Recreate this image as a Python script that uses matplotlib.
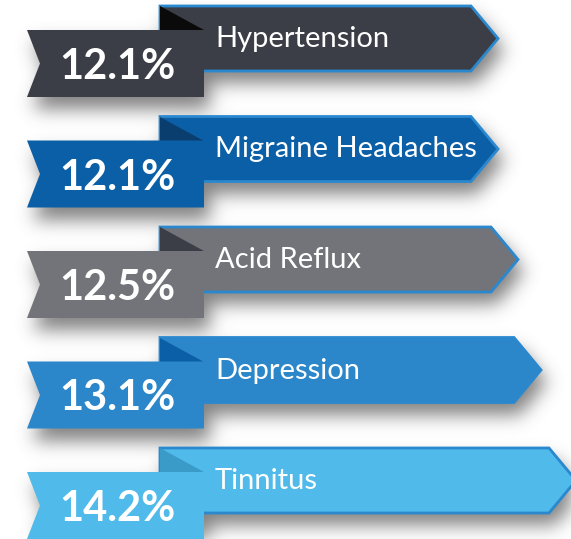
import numpy as np
import matplotlib.pyplot as plt
from matplotlib.patches import Polygon
from matplotlib.path import Path

plt.rcParams["font.family"] = ["Lato", "DejaVu Sans"]

# 数据
conditions = ["Hypertension", "Migraine Headaches", "Acid Reflux", "Depression", "Tinnitus"]
percents = [12.1, 12.1, 12.5, 13.1, 14.2]

# 样式
main_colors = ["#3b3e46", "#0b5fa6", "#727479", "#2b87c9", "#50bbea"]
fold_colors = ["#0a0a0a", "#0a3e6e", "#3b3e46", "#0b5fa6", "#3a9bc9"]
edge_color = "#2a88cf"
tips = [498, 498, 518, 541, 576]

W, H = 571, 539


def shapes(i):
    t = 6 + i * 110.5
    tip = tips[i]
    big = [(160, t), (tip - 27, t), (tip, t + 32.5), (tip - 27, t + 65), (160, t + 65)]
    fold = [(160, t), (160, t + 24), (204, t + 24)]
    small = [(27, t + 24), (204, t + 24), (204, t + 91), (27, t + 91), (40, t + 57.5)]
    return t, big, fold, small


def main():
    fig = plt.figure(figsize=(W / 100, H / 100), dpi=100)
    ax = fig.add_axes([0, 0, 1, 1])
    ax.set_xlim(0, W)
    ax.set_ylim(H, 0)
    ax.axis("off")

    # 阴影：把形状栅格化后做模糊
    yy, xx = np.mgrid[0:H, 0:W]
    pts = np.column_stack([xx.ravel() + 0.5, yy.ravel() + 0.5])
    mask = np.zeros(H * W)
    for i in range(len(conditions)):
        t, big, fold, small = shapes(i)
        for poly in (big, small):
            p = Path([(x + 6, y + 12) for x, y in poly])
            mask = np.maximum(mask, p.contains_points(pts))
    mask = mask.reshape(H, W)
    k = np.exp(-0.5 * (np.arange(-30, 31) / 9.0) ** 2)
    k /= k.sum()
    blur = np.apply_along_axis(lambda r: np.convolve(r, k, mode="same"), 1, mask)
    blur = np.apply_along_axis(lambda c: np.convolve(c, k, mode="same"), 0, blur)
    rgba = np.zeros((H, W, 4))
    rgba[..., :3] = 0.3
    rgba[..., 3] = blur * 0.7
    ax.imshow(rgba, extent=(0, W, H, 0), zorder=0, interpolation="bilinear")

    for i, (name, val) in enumerate(zip(conditions, percents)):
        t, big, fold, small = shapes(i)
        ax.add_patch(Polygon(big, closed=True, facecolor=main_colors[i],
                             edgecolor=edge_color, linewidth=2, zorder=2))
        ax.add_patch(Polygon(fold, closed=True, facecolor=fold_colors[i],
                             edgecolor="none", zorder=3))
        ax.add_patch(Polygon(small, closed=True, facecolor=main_colors[i],
                             edgecolor="none", zorder=4))
        ax.text(215, t + 33, name, color="white", fontsize=21,
                va="center", ha="left", zorder=5)
        ax.text(117, t + 61, f"{val}%", color="white", fontsize=30,
                fontweight="bold", va="center", ha="center", zorder=5)

    fig.savefig("out.png", dpi=100, facecolor="white")


if __name__ == '__main__':
    main()
